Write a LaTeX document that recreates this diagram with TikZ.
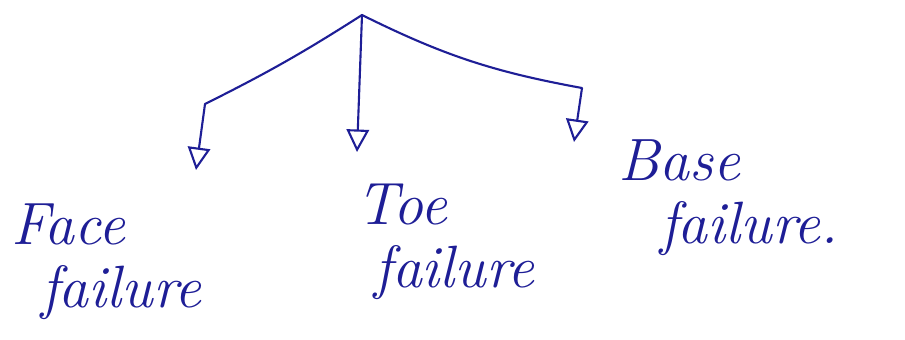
\documentclass[tikz,border=0pt]{standalone}
\usetikzlibrary{arrows.meta}
\definecolor{inkblue}{RGB}{30,30,150}
\begin{document}
\begin{tikzpicture}[x=0.02cm,y=-0.02cm,>={Triangle[open,length=4.5mm,width=4.5mm]},line join=round,line cap=round,
	hand/.style={inkblue,font=\fontsize{34}{38}\selectfont\itshape,align=left,anchor=west},
	branch/.style={inkblue,line width=1.2pt}]
	\useasboundingbox (0,0) rectangle (905,339);
	\coordinate (root) at (362,15);
	\coordinate (faceknee) at (205,104);
	\coordinate (faceend) at (196,170);
	\coordinate (toeend) at (357,152);
	\coordinate (baseknee) at (582,88);
	\coordinate (baseend) at (574,142);
	\draw[branch,->] (root) to[bend left=3] (faceknee) -- (faceend);
	\draw[branch,->] (root) -- (toeend);
	\draw[branch,->] (root) to[bend right=8] (baseknee) -- (baseend);
	\node[hand] (face) at (5,262) {Face\\[-2pt]\hspace{0.5em}failure};
	\node[hand] (toe) at (350,242) {Toe\\[-2pt]\hspace{0.3em}failure};
	\node[hand] (base) at (612,198) {Base\\[-2pt]\hspace{0.7em}failure.};
\end{tikzpicture}
\end{document}
